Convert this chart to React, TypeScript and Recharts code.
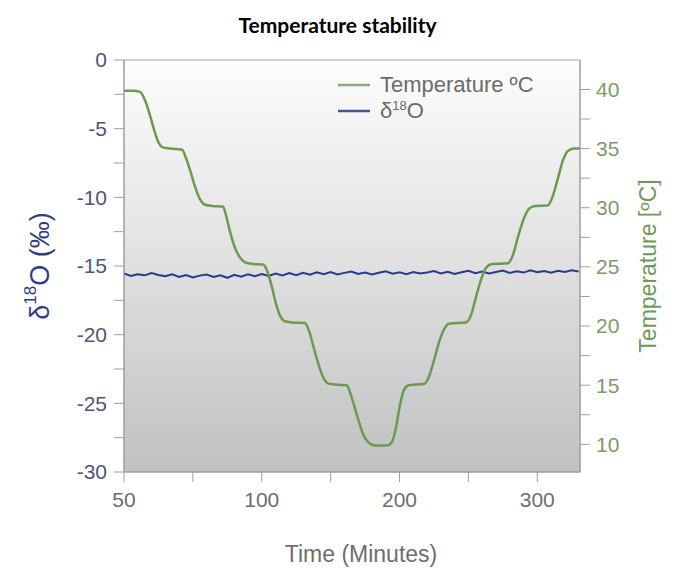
import { Line, LineChart, ReferenceArea, XAxis, YAxis } from "recharts";

// time axis runs 0..331 on the scale; the picture labels the first tick "50"
const xTicks = [0, 50, 100, 150, 200, 250, 300];
const xTickLabels = ["50", "", "100", "", "200", "", "300"];

const leftTicks = [0, -2.5, -5, -7.5, -10, -12.5, -15, -17.5, -20, -22.5, -25, -27.5, -30];
const rightTicks = [10, 12.5, 15, 17.5, 20, 22.5, 25, 27.5, 30, 32.5, 35, 37.5, 40];

const tempTime = [
  0, 6.5, 11.6, 15.2, 18.9, 21.8, 24.7, 28.3, 33.4, 42.1, 45.0, 47.9, 51.5, 55.2, 58.8, 63.9,
  71.8, 74.0, 76.9, 80.6, 84.2, 88.5, 93.6, 100.9, 103.8, 106.7, 110.3, 113.2, 116.8, 121.9,
  131.3, 134.3, 137.2, 140.8, 144.4, 148.0, 153.1, 161.8, 164.0, 166.2, 169.8, 173.4, 177.1,
  182.1, 190.9, 194.5, 197.4, 200.3, 203.2, 206.8, 217.7, 221.3, 225.0, 228.6, 232.2, 235.9,
  248.2, 251.8, 255.4, 259.1, 262.7, 267.1, 278.7, 282.3, 285.9, 290.3, 293.9, 298.3, 307.7,
  311.3, 315.0, 318.6, 322.2, 326.6, 331,
];
const tempValue = [
  39.9, 39.9, 39.8, 39.1, 37.8, 36.6, 35.6, 35.1, 35.0, 34.9, 34.2, 33.2, 31.8, 30.7, 30.25,
  30.15, 30.1, 29.4, 28.0, 26.6, 25.8, 25.35, 25.25, 25.2, 24.7, 23.6, 21.9, 20.9, 20.4, 20.3,
  20.25, 19.6, 18.4, 16.9, 15.7, 15.15, 15.05, 15.0, 14.4, 13.6, 12.2, 10.9, 10.2, 9.9, 9.9,
  10.2, 11.4, 13.3, 14.6, 15.0, 15.1, 15.7, 17.1, 18.6, 19.7, 20.2, 20.3, 20.9, 22.4, 23.9,
  24.9, 25.25, 25.3, 26.0, 27.5, 29.1, 29.9, 30.15, 30.2, 31.0, 32.5, 34.0, 34.8, 35.0, 35.0,
];

const isoTime = [
  0, 5, 10, 15, 20, 25, 30, 35, 40, 45, 50, 55, 60, 65, 70, 75, 80, 85, 90, 95, 100, 105, 110,
  115, 120, 125, 130, 135, 140, 145, 150, 155, 160, 165, 170, 175, 180, 185, 190, 195, 200, 205,
  210, 215, 220, 225, 230, 235, 240, 245, 250, 255, 260, 265, 270, 275, 280, 285, 290, 295, 300,
  305, 310, 315, 320, 325, 330,
];
const isoValue = [
  -15.55, -15.72, -15.6, -15.68, -15.52, -15.66, -15.74, -15.61, -15.8, -15.66,
  -15.84, -15.7, -15.62, -15.8, -15.68, -15.86, -15.64, -15.78, -15.6, -15.74,
  -15.58, -15.72, -15.55, -15.69, -15.52, -15.67, -15.5, -15.64, -15.46, -15.6,
  -15.44, -15.62, -15.5, -15.4, -15.58, -15.47, -15.62, -15.49, -15.38, -15.56,
  -15.45, -15.6, -15.44, -15.55, -15.47, -15.36, -15.54, -15.42, -15.58, -15.46,
  -15.35, -15.52, -15.4, -15.55, -15.44, -15.33, -15.5, -15.39, -15.48, -15.32,
  -15.46, -15.37, -15.49, -15.34, -15.44, -15.31, -15.4,
];

const tempData = tempTime.map((t, i) => ({ t, temp: tempValue[i] }));
const isoData = isoTime.map((t, i) => ({ t, d18o: isoValue[i] }));

const GREEN = "#6c9a4e";
const BLUE = "#2c3a8e";
const AXIS = "#9e9e9e";
const FONT = '"Liberation Sans", Arial, sans-serif';

const majorOnly = (v: number) => (v % 5 === 0 ? String(v) : "");

function LeftAxisLabel({ viewBox }: any) {
  const cx = (viewBox?.x ?? 0) + 40;
  const cy = (viewBox?.y ?? 60) + (viewBox?.height ?? 412) / 2;
  return (
    <text
      x={cx}
      y={cy}
      transform={`rotate(-90 ${cx} ${cy})`}
      textAnchor="middle"
      dominantBaseline="central"
      fill="#2f3c8a"
      fontSize={27}
      fontFamily={FONT}
    >
      δ
      <tspan fontSize={17} dy={-10}>
        18
      </tspan>
      <tspan dy={10}>O (‰)</tspan>
    </text>
  );
}

function RightAxisLabel({ viewBox }: any) {
  const cx = (viewBox?.x ?? 580) + 68;
  const cy = (viewBox?.y ?? 60) + (viewBox?.height ?? 412) / 2;
  return (
    <text
      x={cx}
      y={cy}
      transform={`rotate(-90 ${cx} ${cy})`}
      textAnchor="middle"
      dominantBaseline="central"
      fill="#6c9a55"
      fontSize={23}
      fontFamily={FONT}
    >
      Temperature [ºC]
    </text>
  );
}

function LegendBox() {
  const row = { display: "flex", alignItems: "center", height: 26 } as const;
  const seg = (c: string) => (
    <svg width={32} height={4} style={{ marginRight: 10 }}>
      <line x1={0} y1={2} x2={32} y2={2} stroke={c} strokeWidth={2.5} />
    </svg>
  );
  return (
    <div
      style={{
        position: "absolute",
        left: 338,
        top: 72,
        fontFamily: FONT,
        fontSize: 22,
        color: "#6b6b6b",
        lineHeight: 1,
      }}
    >
      <div style={row}>
        {seg("#8aa97a")}
        <span>Temperature ºC</span>
      </div>
      <div style={row}>
        {seg("#4a5694")}
        <span>
          δ<span style={{ fontSize: 13, position: "relative", top: -8 }}>18</span>O
        </span>
      </div>
    </div>
  );
}

export default function App() {
  return (
    <div style={{ position: "absolute", left: 0, top: 0, width: 675, height: 580, background: "#fff" }}>
      <div
        style={{
          position: "absolute",
          top: 12,
          left: 0,
          width: 675,
          textAlign: "center",
          fontFamily: "Lato, sans-serif",
          fontWeight: 700,
          fontSize: 21,
          color: "#000",
        }}
      >
        Temperature stability
      </div>
      <LineChart
        width={675}
        height={580}
        margin={{ top: 60, right: 0, bottom: 0, left: 0 }}
        style={{ fontFamily: FONT }}
      >
        <defs>
          <linearGradient id="plotBg" x1="0" y1="0" x2="0" y2="1">
            <stop offset="0%" stopColor="#fdfdfd" />
            <stop offset="45%" stopColor="#e3e3e3" />
            <stop offset="100%" stopColor="#c0c1c3" />
          </linearGradient>
        </defs>
        <XAxis
          type="number"
          dataKey="t"
          domain={[0, 331]}
          ticks={xTicks}
          interval={0}
          allowDataOverflow
          tickFormatter={(v: number) => xTickLabels[xTicks.indexOf(v)] ?? ""}
          height={108}
          tickSize={10}
          tickMargin={10}
          tick={{ fontSize: 21, fill: "#6d6d6d" }}
          axisLine={{ stroke: AXIS }}
          tickLine={{ stroke: AXIS }}
          label={{
            value: "Time (Minutes)",
            position: "insideBottom",
            offset: 18,
            dx: 9,
            fontSize: 23,
            fill: "#6d6d6d",
          }}
        />
        <YAxis
          yAxisId="left"
          orientation="left"
          type="number"
          domain={[-30, 0]}
          ticks={leftTicks}
          interval={0}
          allowDataOverflow
          tickFormatter={majorOnly}
          width={124}
          tickSize={10}
          tickMargin={7}
          tick={{ fontSize: 21, fill: "#4e5478" }}
          axisLine={{ stroke: AXIS }}
          tickLine={{ stroke: AXIS }}
          label={<LeftAxisLabel />}
        />
        <YAxis
          yAxisId="right"
          orientation="right"
          type="number"
          domain={[7.66, 42.49]}
          ticks={rightTicks}
          interval={0}
          allowDataOverflow
          tickFormatter={majorOnly}
          width={95}
          tickSize={10}
          tickMargin={6}
          tick={{ fontSize: 21, fill: "#7a9c66" }}
          axisLine={{ stroke: AXIS }}
          tickLine={{ stroke: AXIS }}
          label={<RightAxisLabel />}
        />
        <ReferenceArea
          yAxisId="left"
          x1={0}
          x2={331}
          y1={-30}
          y2={0}
          fill="url(#plotBg)"
          fillOpacity={1}
          stroke={AXIS}
          strokeWidth={1}
          ifOverflow="visible"
        />
        <Line
          yAxisId="left"
          data={isoData}
          dataKey="d18o"
          type="linear"
          stroke={BLUE}
          strokeWidth={2}
          dot={false}
          isAnimationActive={false}
        />
        <Line
          yAxisId="right"
          data={tempData}
          dataKey="temp"
          type="monotone"
          stroke={GREEN}
          strokeWidth={2.5}
          dot={false}
          isAnimationActive={false}
        />
      </LineChart>
      <LegendBox />
    </div>
  );
}
